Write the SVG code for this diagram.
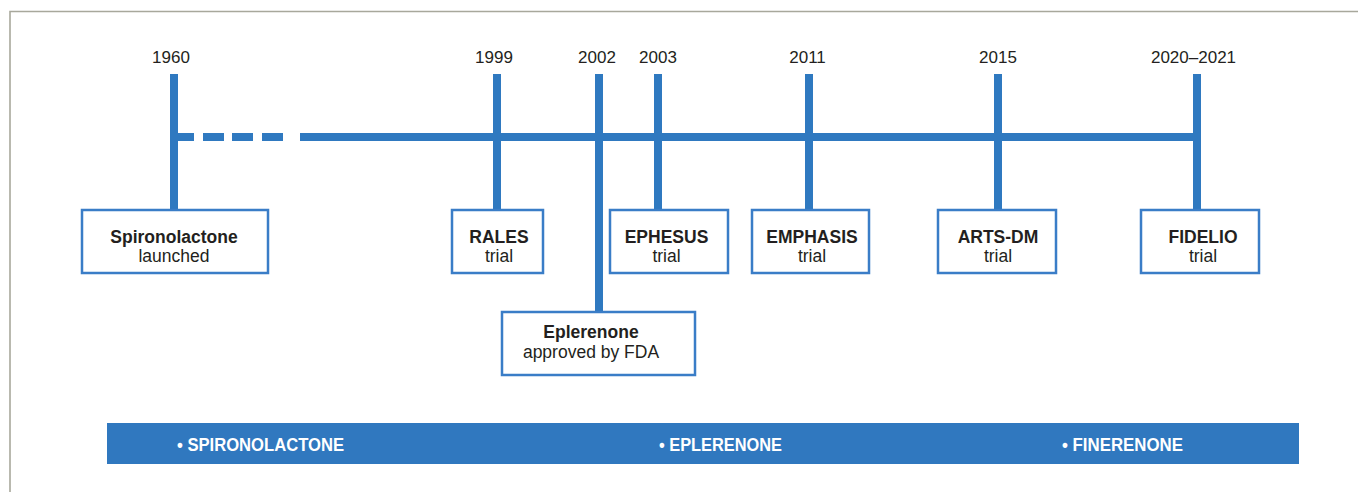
<svg xmlns="http://www.w3.org/2000/svg" width="1358" height="492" viewBox="0 0 1358 492">
<style>
.frame{stroke:#a8a89c;stroke-width:1.6;fill:none}
.ln{fill:#2f79c0}
.box{fill:#ffffff;stroke:#3a7dc7;stroke-width:2.5}
.yr{font-family:"Liberation Sans",Arial,sans-serif;font-size:17px;fill:#231f20;text-anchor:middle}
.b{font-family:"Liberation Sans",Arial,sans-serif;font-size:17.5px;font-weight:bold;fill:#231f20;text-anchor:middle}
.r{font-family:"Liberation Sans",Arial,sans-serif;font-size:17.5px;fill:#231f20;text-anchor:middle}
.band{fill:#3078bf}
.bt{font-family:"Liberation Sans",Arial,sans-serif;font-size:17.5px;font-weight:bold;fill:#ffffff}
</style>
<rect width="1358" height="492" fill="#ffffff"/>
<path class="frame" d="M10,492 V11.5 H1358"/>
<g id="connectors">
  <rect class="ln" x="170" y="74" width="8" height="136"/>
  <rect class="ln" x="170" y="133" width="24" height="8"/>
  <rect class="ln" x="203" y="133" width="21" height="8"/>
  <rect class="ln" x="232" y="133" width="21" height="8"/>
  <rect class="ln" x="262" y="133" width="21" height="8"/>
  <rect class="ln" x="300" y="133" width="901" height="8"/>
  <rect class="ln" x="493" y="74" width="8" height="136"/>
  <rect class="ln" x="595" y="74" width="8" height="239"/>
  <rect class="ln" x="654" y="74" width="8" height="136"/>
  <rect class="ln" x="805" y="74" width="8" height="136"/>
  <rect class="ln" x="994" y="74" width="8" height="136"/>
  <rect class="ln" x="1193" y="74" width="8" height="136"/>
</g>
<g id="years">
  <text class="yr" x="171" y="63">1960</text>
  <text class="yr" x="494" y="63">1999</text>
  <text class="yr" x="597" y="63">2002</text>
  <text class="yr" x="658" y="63">2003</text>
  <text class="yr" x="807.5" y="63">2011</text>
  <text class="yr" x="998" y="63">2015</text>
  <text class="yr" x="1193.5" y="63">2020–2021</text>
</g>
<g id="spironolactone">
  <rect class="box" x="82" y="210" width="186" height="63"/>
  <text class="b" x="174" y="243">Spironolactone</text>
  <text class="r" x="174" y="262">launched</text>
</g>
<g id="rales">
  <rect class="box" x="452" y="210" width="91" height="63"/>
  <text class="b" x="499" y="243">RALES</text>
  <text class="r" x="499" y="262">trial</text>
</g>
<g id="eplerenone">
  <rect class="box" x="502" y="312" width="193" height="63"/>
  <text class="b" x="591" y="338">Eplerenone</text>
  <text class="r" x="591" y="358">approved by FDA</text>
</g>
<g id="ephesus">
  <rect class="box" x="610" y="210" width="118" height="63"/>
  <text class="b" x="666.5" y="243">EPHESUS</text>
  <text class="r" x="666.5" y="262">trial</text>
</g>
<g id="emphasis">
  <rect class="box" x="752" y="210" width="117" height="63"/>
  <text class="b" x="812" y="243">EMPHASIS</text>
  <text class="r" x="812" y="262">trial</text>
</g>
<g id="arts-dm">
  <rect class="box" x="938" y="210" width="118" height="63"/>
  <text class="b" x="998" y="243">ARTS-DM</text>
  <text class="r" x="998" y="262">trial</text>
</g>
<g id="fidelio">
  <rect class="box" x="1141" y="210" width="118" height="63"/>
  <text class="b" x="1203" y="243">FIDELIO</text>
  <text class="r" x="1203" y="262">trial</text>
</g>
<g id="band">
  <rect class="band" x="107" y="423" width="1192" height="41"/>
  <text class="bt" x="177" y="451" textLength="167" lengthAdjust="spacingAndGlyphs">• SPIRONOLACTONE</text>
  <text class="bt" x="659" y="451" textLength="123" lengthAdjust="spacingAndGlyphs">• EPLERENONE</text>
  <text class="bt" x="1062" y="451" textLength="121" lengthAdjust="spacingAndGlyphs">• FINERENONE</text>
</g>
</svg>
